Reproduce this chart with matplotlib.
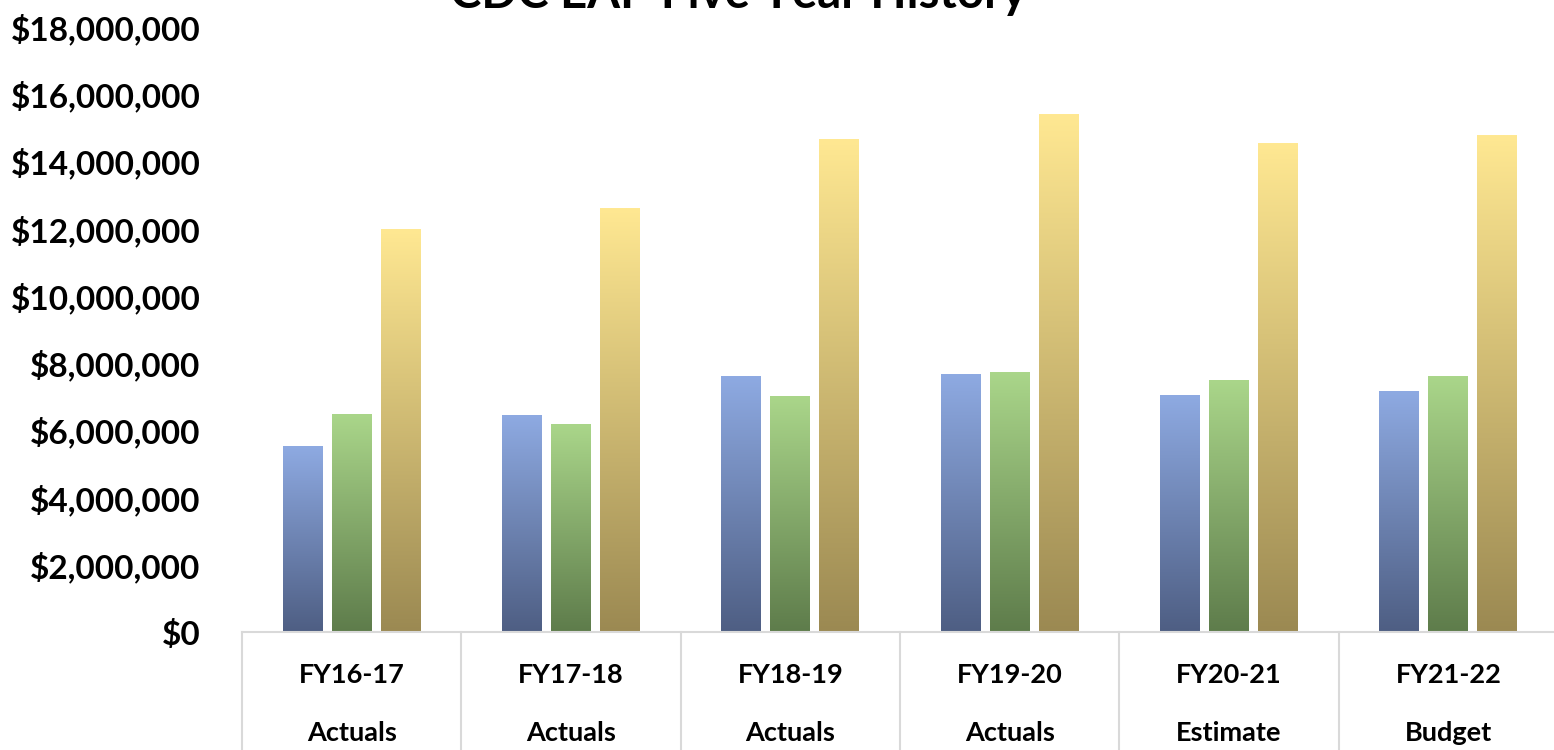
import numpy as np
import matplotlib
matplotlib.use("Agg")
import matplotlib.pyplot as plt
from matplotlib.colors import LinearSegmentedColormap
from matplotlib.ticker import FuncFormatter
from matplotlib.lines import Line2D

# Fiscal years and their status labels
years = ["FY16-17", "FY17-18", "FY18-19", "FY19-20", "FY20-21", "FY21-22"]
status = ["Actuals", "Actuals", "Actuals", "Actuals", "Estimate", "Budget"]

# Three series per year (dollars)
series_a = [5.51e6, 6.43e6, 7.59e6, 7.65e6, 7.05e6, 7.17e6]
series_b = [6.46e6, 6.16e6, 7.02e6, 7.71e6, 7.47e6, 7.59e6]
series_c = [11.99e6, 12.59e6, 14.64e6, 15.39e6, 14.52e6, 14.76e6]

title = "CDC EAP Five Year History"

# Vertical gradient (bottom colour, top colour) for each series
gradients = [
    ("#4E5E83", "#8EAAE2"),
    ("#5E7C4B", "#AAD68A"),
    ("#9B8952", "#FFE892"),
]

plt.rcParams["font.family"] = ["Lato", "DejaVu Sans"]
W, H = 1554, 750
fig = plt.figure(figsize=(W / 100, H / 100), dpi=100)
left_px, right_px, bottom_px, top_px = 242, 1558, 632, 27
ax = fig.add_axes([left_px / W, (H - bottom_px) / H,
                   (right_px - left_px) / W, (bottom_px - top_px) / H])

n = len(years)
x = np.arange(n)
bar_w = 0.182
step = 0.223
offsets = [-step, 0.0, step]

for values, off, (c_bot, c_top) in zip([series_a, series_b, series_c], offsets, gradients):
    cmap = LinearSegmentedColormap.from_list("g", [c_bot, c_top])
    grad = np.linspace(0, 1, 256).reshape(-1, 1)
    bars = ax.bar(x + off, values, width=bar_w, color="none", edgecolor="none")
    for b in bars:
        x0 = b.get_x()
        ax.imshow(grad, cmap=cmap, origin="lower", aspect="auto",
                  extent=(x0, x0 + b.get_width(), 0, b.get_height()),
                  interpolation="bilinear", zorder=2)

ax.set_xlim(-0.5, n - 0.5)
ax.set_ylim(0, 18e6)
ax.set_yticks(np.arange(0, 18e6 + 1, 2e6))
ax.yaxis.set_major_formatter(FuncFormatter(lambda v, p: f"${v:,.0f}"))
ax.tick_params(axis="y", length=0, pad=30, labelsize=24)
for lbl in ax.get_yticklabels():
    lbl.set_fontweight("bold")

ax.set_xticks([])
for s in ["left", "right", "top"]:
    ax.spines[s].set_visible(False)
ax.spines["bottom"].set_color("#D9D9D9")
ax.spines["bottom"].set_linewidth(1.5)

# Category separators extending below the axis
axis_h_px = bottom_px - top_px
drop = -(H - bottom_px) / axis_h_px
for i in range(n + 1):
    ax.add_line(Line2D([i - 0.5, i - 0.5], [0, drop], color="#D9D9D9",
                       linewidth=1.5, transform=ax.get_xaxis_transform(),
                       clip_on=False))

# Two-line category labels
for i in range(n):
    ax.text(i, -(675 - bottom_px) / axis_h_px, years[i],
            transform=ax.get_xaxis_transform(), ha="center", va="center",
            fontsize=19.5, fontweight="bold")
    ax.text(i, -(733 - bottom_px) / axis_h_px, status[i],
            transform=ax.get_xaxis_transform(), ha="center", va="center",
            fontsize=19.5, fontweight="bold")

fig.text(738 / W, 1 - 8 / H, title, ha="center", va="baseline",
         fontsize=34, fontweight="bold")

fig.savefig("out.png", dpi=100)
